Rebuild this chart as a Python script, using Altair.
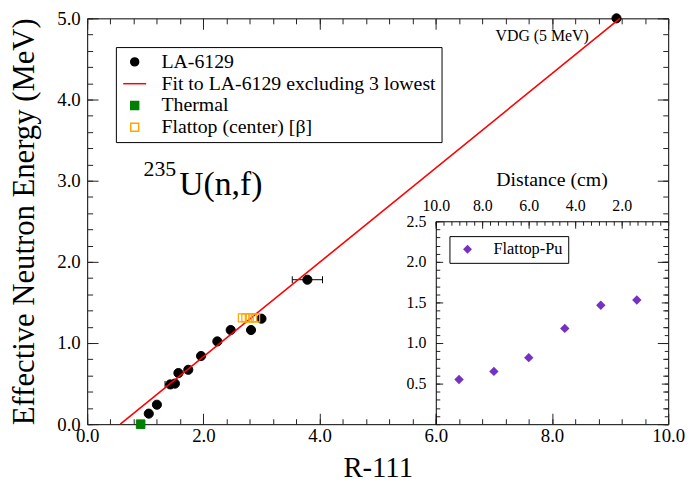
import numpy as np
import pandas as pd
import altair as alt

FONT = "Liberation Serif"

# ---------------- data ----------------
series_names = ["LA-6129", "Fit to LA-6129 excluding 3 lowest", "Thermal", "Flattop (center) [β]"]

la_r111 = [1.06, 1.20, 1.43, 1.51, 1.57, 1.74, 1.96, 2.24, 2.47, 2.82, 3.00, 3.79, 9.11]
la_energy = [0.13, 0.24, 0.49, 0.50, 0.63, 0.67, 0.84, 1.02, 1.16, 1.16, 1.30, 1.78, 5.00]
la_r111_err = [0.0, 0.0, 0.09, 0.0, 0.0, 0.0, 0.0, 0.0, 0.0, 0.0, 0.0, 0.26, 0.0]
la_note = ["", "", "", "", "", "", "", "", "", "", "", "", "VDG (5 MeV)"]

fit_r111 = [0.57, 9.17]
fit_energy = [0.0, 5.0]

thermal_r111 = [0.92]
thermal_energy = [0.0]

flattop_r111 = [2.67, 2.73, 2.79, 2.85, 2.90]
flattop_energy = [1.31, 1.31, 1.31, 1.31, 1.31]

inset_names = ["Flattop-Pu"]
pu_distance = [9.0, 7.5, 6.0, 4.45, 2.9, 1.35]
pu_energy = [0.55, 0.65, 0.82, 1.18, 1.465, 1.53]

annotation_texts = ["235", "U(n,f)", "Distance (cm)"]

x_major = [0, 2, 4, 6, 8, 10]
y_major = [0, 1, 2, 3, 4, 5]
inset_x_labels = [10, 8, 6, 4, 2]
inset_y_labels = [0.5, 1.0, 1.5, 2.0, 2.5]

# minor tick positions (axis configuration)
x_minor = [round(v, 2) for v in np.arange(0, 10.001, 0.4)]
y_minor = [round(v, 2) for v in np.arange(0, 5.001, 0.2)]
ix_minor = [round(v, 3) for v in np.arange(0, 10.001, 1 / 3)]
iy_minor = [round(v, 2) for v in np.arange(0, 2.501, 0.1)]

# ---------------- layout ----------------
W, H = 587, 410
IX0 = W * 0.6    # inset left edge (x = 6.0 of the main axis)
IY0 = H * 0.5    # inset top edge (y = 2.5 of the main axis)
TICK = "#222222"

TXT = dict(labelFont=FONT, titleFont=FONT, labelColor="black", titleColor="black",
           titleFontWeight="normal", labelFontWeight="normal")


def tick_axis(orient, values, size, extra=0, **kw):
    base = dict(orient=orient, values=values, tickSize=size, offset=-(size + extra),
                labels=False, title=None, domain=False, grid=False, ticks=True,
                tickColor=TICK, tickWidth=1, labelFlush=False, labelOverlap=False, **TXT)
    base.update(kw)
    return alt.Axis(**base)


def line_axis(orient, extra):
    return alt.Axis(orient=orient, offset=-extra, ticks=False, labels=False, domain=True,
                    domainColor="black", domainWidth=1, title=None, grid=False)


# main axes
x_bot_lab = tick_axis("bottom", x_major, 11, labels=True, format=".1f", labelFontSize=19,
                      labelPadding=3, title="R-111", titleFontSize=29, titlePadding=8)
x_bot_min = tick_axis("bottom", x_minor, 5.5)
x_top_maj = tick_axis("top", x_major, 11)
x_top_min = tick_axis("top", x_minor, 5.5)
y_left_lab = tick_axis("left", y_major, 11, labels=True, format=".1f", labelFontSize=19,
                       labelPadding=7, title="Effective Neutron Energy (MeV)",
                       titleFontSize=31, titlePadding=16)
y_left_min = tick_axis("left", y_minor, 5.5)
y_right_maj = tick_axis("right", y_major, 11)
y_right_min = tick_axis("right", y_minor, 5.5)

# inset axes
ix_top_lab = tick_axis("top", inset_x_labels, 7, extra=IY0, labels=True, format=".1f",
                       labelFontSize=16, labelPadding=8)
ix_top_min = tick_axis("top", ix_minor, 4, extra=IY0)
ix_top_line = line_axis("top", IY0)
iy_left_lab = tick_axis("left", inset_y_labels, 7, extra=IX0, labels=True, format=".1f",
                        labelFontSize=16, labelPadding=10)
iy_left_min = tick_axis("left", iy_minor, 4, extra=IX0)
iy_left_line = line_axis("left", IX0)
iy_right_maj = tick_axis("right", inset_y_labels, 7)
iy_right_min = tick_axis("right", iy_minor, 4)

# scales
x_scale = alt.Scale(domain=[0, 10], nice=False, zero=False)
y_scale = alt.Scale(domain=[0, 5], nice=False, zero=False)
fill_scale = alt.Scale(domain=series_names, range=["black", "transparent", "#008000", "transparent"])
stroke_scale = alt.Scale(domain=series_names, range=["black", "red", "#008000", "#ffa500"])
shape_scale = alt.Scale(domain=series_names, range=["circle", "M-2.9,0H2.9", "square", "square"])

ix_scale = alt.Scale(domain=[10, 0], range=[IX0, W], nice=False, zero=False)
iy_scale = alt.Scale(domain=[0, 2.5], range=[H, IY0], nice=False, zero=False)

main_legend = alt.Legend(title=None, orient="none", legendX=29, legendY=29,
                         strokeColor="black", fillColor="white", padding=5,
                         labelFont=FONT, labelFontSize=20, labelLimit=600, labelColor="black",
                         symbolSize=64, symbolStrokeWidth=1.5, symbolOffset=4,
                         labelOffset=17, rowPadding=2)
inset_legend = alt.Legend(title=None, orient="none", legendX=366, legendY=220,
                          strokeColor="black", fillColor="white", padding=5,
                          labelFont=FONT, labelFontSize=16.5, labelLimit=300, labelColor="black",
                          symbolSize=80, symbolStrokeWidth=0, symbolOffset=5,
                          labelOffset=18)


def style_enc(field="series:N"):
    return dict(
        fill=alt.Fill(field, scale=fill_scale, legend=main_legend),
        stroke=alt.Stroke(field, scale=stroke_scale, legend=main_legend),
        shape=alt.Shape(field, scale=shape_scale, legend=main_legend),
    )


# ---------------- tables ----------------
la_df = pd.DataFrame({"r111": la_r111, "energy": la_energy, "err": la_r111_err,
                      "note": la_note, "series": series_names[0]})
la_df["lo"] = la_df["r111"] - la_df["err"]
la_df["hi"] = la_df["r111"] + la_df["err"]
err_df = la_df[la_df["err"] > 0]

fit_df = pd.DataFrame({"r111": fit_r111, "energy": fit_energy, "series": series_names[1]})
thermal_df = pd.DataFrame({"r111": thermal_r111, "energy": thermal_energy, "series": series_names[2]})
flattop_df = pd.DataFrame({"r111": flattop_r111, "energy": flattop_energy, "series": series_names[3]})
pu_df = pd.DataFrame({"distance": pu_distance, "energy": pu_energy, "series": inset_names[0]})
ann_df = pd.DataFrame({"t": annotation_texts})

# ---------------- main plot layers ----------------
err_rule = alt.Chart(err_df).mark_rule(color="black", strokeWidth=1).encode(
    x=alt.X("lo:Q", scale=x_scale, axis=None),
    x2="hi:Q",
    y=alt.Y("energy:Q", scale=y_scale, axis=None),
)
err_caps = alt.Chart(err_df).transform_fold(["lo", "hi"], as_=["end", "xv"]).mark_tick(
    orient="vertical", size=7, thickness=1, color="black", opacity=1
).encode(
    x=alt.X("xv:Q", scale=x_scale, axis=None),
    y=alt.Y("energy:Q", scale=y_scale, axis=None),
)
la_pts = alt.Chart(la_df).mark_point(size=85, opacity=1, strokeWidth=1).encode(
    x=alt.X("r111:Q", scale=x_scale, axis=x_bot_lab),
    y=alt.Y("energy:Q", scale=y_scale, axis=y_left_lab),
    **style_enc(),
)
fit_line = alt.Chart(fit_df).mark_line(strokeWidth=1.6).encode(
    x=alt.X("r111:Q", scale=x_scale, axis=x_bot_min),
    y=alt.Y("energy:Q", scale=y_scale, axis=y_left_min),
    stroke=alt.Stroke("series:N", scale=stroke_scale, legend=main_legend),
)
thermal_pts = alt.Chart(thermal_df).mark_point(size=75, opacity=1, strokeWidth=1).encode(
    x=alt.X("r111:Q", scale=x_scale, axis=x_top_maj),
    y=alt.Y("energy:Q", scale=y_scale, axis=y_right_maj),
    **style_enc(),
)
flattop_pts = alt.Chart(flattop_df).mark_point(size=64, opacity=1, strokeWidth=1.2).encode(
    x=alt.X("r111:Q", scale=x_scale, axis=x_top_min),
    y=alt.Y("energy:Q", scale=y_scale, axis=y_right_min),
    **style_enc(),
)
vdg_text = alt.Chart(la_df).mark_text(align="right", baseline="alphabetic", dx=-28, dy=23,
                                      font=FONT, fontSize=16, color="black").encode(
    x=alt.X("r111:Q", scale=x_scale, axis=None),
    y=alt.Y("energy:Q", scale=y_scale, axis=None),
    text="note:N",
)
ann_sup = alt.Chart(ann_df).transform_filter(alt.datum.t == annotation_texts[0]).mark_text(
    align="left", baseline="alphabetic", font=FONT, fontSize=22, color="black"
).encode(x=alt.value(57), y=alt.value(159), text="t:N")
ann_main = alt.Chart(ann_df).transform_filter(alt.datum.t == annotation_texts[1]).mark_text(
    align="left", baseline="alphabetic", font=FONT, fontSize=34, color="black"
).encode(x=alt.value(93), y=alt.value(178), text="t:N")
ann_dist = alt.Chart(ann_df).transform_filter(alt.datum.t == annotation_texts[2]).mark_text(
    align="center", baseline="alphabetic", font=FONT, fontSize=20, fontWeight="normal", color="black"
).encode(x=alt.value((IX0 + W) / 2), y=alt.value(IY0 - 36), text="t:N")

main = alt.layer(err_rule, err_caps, la_pts, fit_line, thermal_pts, flattop_pts,
                 vdg_text, ann_sup, ann_main, ann_dist).resolve_axis(x="independent", y="independent")

# ---------------- inset layers ----------------
pu_base = alt.Chart(pu_df)
pu_pts = pu_base.mark_point(filled=True, size=90, opacity=1).encode(
    x=alt.X("distance:Q", scale=ix_scale, axis=ix_top_lab),
    y=alt.Y("energy:Q", scale=iy_scale, axis=iy_left_lab),
    fill=alt.Fill("series:N", scale=alt.Scale(domain=inset_names, range=["#7431c2"]), legend=inset_legend),
    shape=alt.Shape("series:N", scale=alt.Scale(domain=inset_names, range=["diamond"]), legend=inset_legend),
)


def ghost(xaxis, yaxis):
    return pu_base.mark_point(opacity=0).encode(
        x=alt.X("distance:Q", scale=ix_scale, axis=xaxis),
        y=alt.Y("energy:Q", scale=iy_scale, axis=yaxis),
    )


inset = alt.layer(
    pu_pts,
    ghost(ix_top_min, iy_left_min),
    ghost(ix_top_line, iy_left_line),
    ghost(None, iy_right_maj),
    ghost(None, iy_right_min),
).resolve_axis(x="independent", y="independent")

chart = alt.layer(main, inset).resolve_scale(
    x="independent", y="independent", fill="independent", stroke="independent", shape="independent"
).properties(
    width=W, height=H,
    autosize=alt.AutoSizeParams(type="none"),
    padding={"left": 80, "top": 8, "right": 20, "bottom": 62},
).configure(font=FONT).configure_view(stroke="black", strokeWidth=1).configure_axis(
    grid=False, **TXT
).configure_legend(labelFont=FONT, cornerRadius=0)

chart.save("out.html", embed_options={"renderer": "svg", "actions": False})
